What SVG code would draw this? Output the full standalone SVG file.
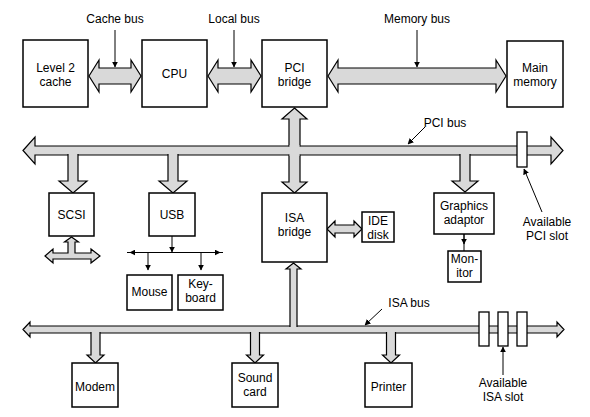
<svg xmlns="http://www.w3.org/2000/svg" width="590" height="417" viewBox="0 0 590 417">
<defs>
<style>
.box{fill:#fff;stroke:#000;stroke-width:1.5}
.bus{fill:#d9d9d9;stroke:#000;stroke-width:1.2;stroke-linejoin:miter}
.j{fill:#d9d9d9;stroke:none}
.ln{fill:none;stroke:#000;stroke-width:1}
.t{font-family:"Liberation Sans",Arial,sans-serif;font-size:12px;fill:#000;text-anchor:middle}
.slot{fill:#fff;stroke:#000;stroke-width:1.3}
</style>
<marker id="ah" viewBox="0 0 10 10" refX="9" refY="5" markerWidth="6" markerHeight="6" orient="auto" markerUnits="userSpaceOnUse">
<path d="M0,0 L10,5 L0,10 Z" fill="#000"/>
</marker>
</defs>
<rect width="590" height="417" fill="#fff"/>

<g id="connectors">
<path class="bus" d="M89,76 L99,60 L99,68 L131,68 L131,60 L141,76 L131,92 L131,84 L99,84 L99,92 Z"/>
<path class="bus" d="M208,76 L218,60 L218,68 L251,68 L251,60 L261,76 L251,92 L251,84 L218,84 L218,92 Z"/>
<path class="bus" d="M328,76 L338,60 L338,68 L496,68 L496,60 L506,76 L496,92 L496,84 L338,84 L338,92 Z"/>
<line class="ln" x1="115" y1="30" x2="115" y2="67" marker-end="url(#ah)"/>
<line class="ln" x1="234" y1="30" x2="234" y2="67" marker-end="url(#ah)"/>
<line class="ln" x1="417" y1="30" x2="417" y2="67" marker-end="url(#ah)"/>

<path class="bus" d="M23,150.5 L35,137 L35,146 L551,146 L551,137 L563,150.5 L551,164 L551,155 L35,155 L35,164 Z"/>
<path class="bus" d="M294.5,108 L307,119 L300,119 L300,182 L307,182 L294.5,193 L282,182 L289,182 L289,119 L282,119 Z"/>
<path class="j" d="M289.6,145 H299.4 V156 H289.6 Z M288,146.7 H301 V154.3 H288 Z"/>
<path class="bus" d="M68,154 L68,181 L59,181 L73,193 L87,181 L78,181 L78,154"/>
<path class="bus" d="M168,154 L168,181 L159,181 L173,193 L187,181 L178,181 L178,154"/>
<path class="bus" d="M460,154 L460,181 L452,181 L465,192 L478,181 L470,181 L470,154"/>
<line class="ln" x1="425" y1="127" x2="408" y2="144" marker-end="url(#ah)"/>

<path class="bus" d="M45,256 L53,249 L53,253 L68,253 L68,242 L64.5,242 L71.5,237 L78.5,242 L75,242 L75,253 L91,253 L91,249 L100,256 L91,263 L91,259 L53,259 L53,263 Z"/>

<line class="ln" x1="172" y1="236" x2="172" y2="252" marker-end="url(#ah)"/>
<line class="ln" x1="127" y1="252.5" x2="223" y2="252.5"/>
<line class="ln" x1="160" y1="252.5" x2="130" y2="252.5" marker-end="url(#ah)"/>
<line class="ln" x1="190" y1="252.5" x2="220" y2="252.5" marker-end="url(#ah)"/>
<line class="ln" x1="148" y1="252.5" x2="148" y2="270" marker-end="url(#ah)"/>
<line class="ln" x1="201" y1="252.5" x2="201" y2="270" marker-end="url(#ah)"/>

<path class="bus" d="M327,229 L335,221 L335,225 L354,225 L354,221 L362,229 L354,237 L354,233 L335,233 L335,237 Z"/>

<line class="ln" x1="464" y1="234" x2="464" y2="251"/>
<line class="ln" x1="464" y1="234" x2="464" y2="244" marker-end="url(#ah)"/>

<line class="ln" x1="542" y1="212" x2="524" y2="169" marker-end="url(#ah)"/>

<path class="bus" d="M23,329.5 L30,322 L30,326 L557,326 L557,322 L564,329.5 L557,337 L557,333 L30,333 L30,337 Z"/>
<path class="bus" d="M290,327 L290,269 L286,269 L293.5,263 L301,269 L297,269 L297,327"/>
<path class="bus" d="M91,332 L91,355 L87,355 L95.5,363 L104,355 L100,355 L100,332"/>
<path class="bus" d="M250.5,332 L250.5,355 L246.5,355 L255,363 L263.5,355 L259.5,355 L259.5,332"/>
<path class="bus" d="M386.5,332 L386.5,355 L382.5,355 L391,363 L399.5,355 L395.5,355 L395.5,332"/>
<line class="ln" x1="382" y1="309" x2="365" y2="325" marker-end="url(#ah)"/>
<line class="ln" x1="503" y1="375" x2="503" y2="347" marker-end="url(#ah)"/>
</g>

<g id="pci-slot">
<rect class="slot" x="517" y="132" width="10" height="35"/>
<text class="t" x="547" y="226">Available</text>
<text class="t" x="547" y="240">PCI slot</text>
</g>
<g id="isa-slots">
<rect class="slot" x="479" y="312" width="10" height="34"/>
<rect class="slot" x="498" y="312" width="10" height="34"/>
<rect class="slot" x="517" y="312" width="10" height="34"/>
<text class="t" x="503" y="387">Available</text>
<text class="t" x="503" y="401">ISA slot</text>
</g>

<g id="labels">
<text class="t" x="115" y="23">Cache bus</text>
<text class="t" x="234" y="23">Local bus</text>
<text class="t" x="417" y="23">Memory bus</text>
<text class="t" x="445" y="127">PCI bus</text>
<text class="t" x="409" y="307">ISA bus</text>
</g>

<g id="l2cache"><rect class="box" x="23" y="40" width="65" height="67"/><text class="t" x="55.5" y="72">Level 2</text><text class="t" x="55.5" y="86">cache</text></g>
<g id="cpu"><rect class="box" x="142" y="40" width="65" height="67"/><text class="t" x="174.5" y="78">CPU</text></g>
<g id="pcibridge"><rect class="box" x="262" y="40" width="65" height="67"/><text class="t" x="294.5" y="72">PCI</text><text class="t" x="294.5" y="86">bridge</text></g>
<g id="mainmemory"><rect class="box" x="507" y="41" width="56" height="66"/><text class="t" x="535" y="72">Main</text><text class="t" x="535" y="86">memory</text></g>
<g id="scsi"><rect class="box" x="49" y="193" width="45" height="43"/><text class="t" x="71.5" y="219">SCSI</text></g>
<g id="usb"><rect class="box" x="149" y="193" width="46" height="43"/><text class="t" x="172" y="219">USB</text></g>
<g id="isabridge"><rect class="box" x="262" y="193" width="65" height="69"/><text class="t" x="294.5" y="222">ISA</text><text class="t" x="294.5" y="236">bridge</text></g>
<g id="idedisk"><rect class="box" x="362" y="212" width="32" height="30"/><text class="t" x="378" y="225">IDE</text><text class="t" x="378" y="239">disk</text></g>
<g id="graphics"><rect class="box" x="434" y="193" width="60" height="41"/><text class="t" x="464" y="210">Graphics</text><text class="t" x="464" y="224">adaptor</text></g>
<g id="monitor"><rect class="box" x="448" y="251" width="33" height="31"/><text class="t" x="464.5" y="263">Mon-</text><text class="t" x="464.5" y="277">itor</text></g>
<g id="mouse"><rect class="box" x="127" y="275" width="45" height="35"/><text class="t" x="149.5" y="296">Mouse</text></g>
<g id="keyboard"><rect class="box" x="178" y="275" width="45" height="35"/><text class="t" x="200.5" y="288">Key-</text><text class="t" x="200.5" y="302">board</text></g>
<g id="modem"><rect class="box" x="72" y="363" width="46" height="44"/><text class="t" x="95" y="391">Modem</text></g>
<g id="soundcard"><rect class="box" x="232" y="363" width="46" height="44"/><text class="t" x="255" y="382">Sound</text><text class="t" x="255" y="396">card</text></g>
<g id="printer"><rect class="box" x="365" y="363" width="47" height="44"/><text class="t" x="388.5" y="391">Printer</text></g>
</svg>
